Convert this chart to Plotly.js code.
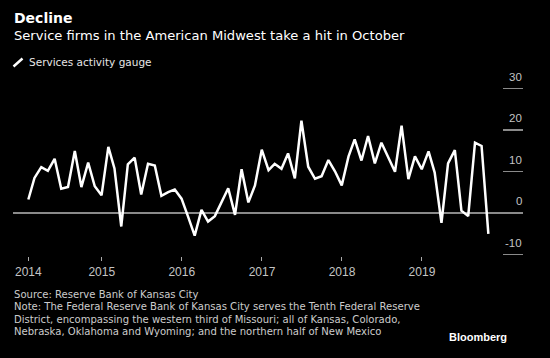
<!DOCTYPE html>
<html>
<head>
<meta charset="utf-8">
<script src="https://cdn.plot.ly/plotly-3.0.1.min.js"></script>
<style>
  html, body { margin: 0; padding: 0; background: #000; }
  #chart { width: 550px; height: 358px; }
</style>
</head>
<body>
<div id="chart"></div>
<script>
// ---- Data (monthly, Jan 2014 .. Oct 2019) ----
const firstYear = 2014, firstMonth = 1;
const gaugeValues = [
  3.3, 8.5, 11.1, 10.2, 13.1, 5.9, 6.3, 15.0, 6.3, 12.2, 6.5, 4.3,
  16.0, 10.8, -3.2, 11.8, 13.4, 4.5, 11.9, 11.5, 4.2, 5.1, 5.7, 3.5,
  -1.0, -5.4, 0.8, -2.0, -0.7, 2.7, 6.0, -0.4, 10.6, 2.6, 6.7, 15.3,
  10.4, 11.9, 10.7, 14.4, 8.4, 22.3, 11.2, 8.3, 8.9, 12.8, 10.1, 6.7,
  13.7, 17.8, 12.7, 18.6, 12.0, 17.0, 13.4, 10.0, 21.1, 8.2, 13.7, 10.6,
  14.9, 9.8, -2.3, 12.0, 15.2, 0.6, -0.7, 17.0, 16.2, -5.0
];
const xTickVals = ['2014-01-31', '2015-01-01', '2016-01-01', '2017-01-01', '2018-01-01', '2019-01-01'];
const xTickText = ['2014', '2015', '2016', '2017', '2018', '2019'];
const yTickVals = [-10, 0, 10, 20, 30];
const yTickText = ['-10', '0', '10', '20', '30'];

// month-end dates for each observation
const dates = gaugeValues.map((v, i) => {
  const d = new Date(Date.UTC(firstYear, firstMonth - 1 + i + 1, 0));
  return d.toISOString().slice(0, 10);
});

// ---- Layout helpers (pixel -> paper) ----
const W = 550, H = 358;
const mL = 13, mR = 27, mT = 66, mB = 102;
const pw = W - mL - mR, ph = H - mT - mB;
const px = x => (x - mL) / pw;
const py = y => (H - mB - y) / ph;

const SANS = '"DejaVu Sans", Verdana, sans-serif';
const ARIAL = '"Liberation Sans", Arial, sans-serif';

const trace = {
  x: dates,
  y: gaugeValues,
  type: 'scatter',
  mode: 'lines',
  line: { color: '#ffffff', width: 2.5 },
  hoverinfo: 'x+y',
  showlegend: false
};

const base = { xref: 'paper', yref: 'paper', showarrow: false, align: 'left', borderpad: 0 };
const textAnn = [
  { text: '<b>Decline</b>', x: px(12.5), y: py(18), xanchor: 'left', yanchor: 'middle', font: { size: 14, color: '#ffffff', family: SANS } },
  { text: 'Service firms in the American Midwest take a hit in October', x: px(12.5), y: py(35.7), xanchor: 'left', yanchor: 'middle', font: { size: 13.1, color: '#ffffff', family: SANS } },
  { text: 'Services activity gauge', x: px(27.5), y: py(62), xanchor: 'left', yanchor: 'middle', font: { size: 10.5, color: '#e6e6e6', family: SANS } },
  { text: 'Source: Reserve Bank of Kansas City', x: px(12.5), y: py(294.3), xanchor: 'left', yanchor: 'middle', font: { size: 10.05, color: '#cccccc', family: SANS } },
  { text: 'Note: The Federal Reserve Bank of Kansas City serves the Tenth Federal Reserve', x: px(12.5), y: py(306.8), xanchor: 'left', yanchor: 'middle', font: { size: 10.05, color: '#cccccc', family: SANS } },
  { text: 'District, encompassing the western third of Missouri; all of Kansas, Colorado,', x: px(12.5), y: py(319.3), xanchor: 'left', yanchor: 'middle', font: { size: 10.05, color: '#cccccc', family: SANS } },
  { text: 'Nebraska, Oklahoma and Wyoming; and the northern half of New Mexico', x: px(12.5), y: py(331.8), xanchor: 'left', yanchor: 'middle', font: { size: 10.05, color: '#cccccc', family: SANS } },
  { text: '<b>Bloomberg</b>', x: px(507.5), y: py(337.3), xanchor: 'right', yanchor: 'middle', font: { size: 11, color: '#ffffff', family: ARIAL } }
].map(a => Object.assign({}, base, a));

// y tick labels drawn above each short tick line, right-aligned at the plot edge
const yLabelAnn = yTickVals.map((v, i) => Object.assign({}, base, {
  text: yTickText[i], xref: 'paper', yref: 'y', x: 1, y: v,
  xanchor: 'right', yanchor: 'middle', yshift: 12,
  font: { size: 11.5, color: '#c4c4c4', family: ARIAL }
}));

const shapes = [
  { type: 'line', xref: 'paper', yref: 'paper', x0: px(13.5), y0: py(66.5), x1: px(22.5), y1: py(58.5), line: { color: '#ffffff', width: 2.5 } }
];

const layout = {
  width: W, height: H,
  margin: { l: mL, r: mR, t: mT, b: mB, pad: 0 },
  paper_bgcolor: '#000000',
  plot_bgcolor: '#000000',
  font: { family: ARIAL, color: '#cccccc' },
  showlegend: false,
  xaxis: {
    type: 'date',
    range: ['2013-11-22', '2020-04-06'],
    tickmode: 'array',
    tickvals: xTickVals,
    ticktext: xTickText,
    ticks: 'outside',
    ticklen: 4,
    tickwidth: 1,
    tickcolor: '#aaaaaa',
    tickfont: { size: 12, color: '#c4c4c4', family: ARIAL },
    ticklabelstandoff: 1,
    showgrid: false,
    showline: false,
    zeroline: false,
    fixedrange: true
  },
  yaxis: {
    range: [-10.31, 35.47],
    side: 'right',
    tickmode: 'array',
    tickvals: yTickVals,
    ticktext: yTickText,
    ticks: 'inside',
    ticklen: 20,
    tickwidth: 1.5,
    tickcolor: '#8a8a8a',
    showticklabels: false,
    showgrid: false,
    showline: false,
    zeroline: true,
    zerolinecolor: '#8a8a8a',
    zerolinewidth: 1.5,
    fixedrange: true
  },
  annotations: textAnn.concat(yLabelAnn),
  shapes: shapes
};

Plotly.newPlot('chart', [trace], layout, { displayModeBar: false, staticPlot: true });
</script>
</body>
</html>
